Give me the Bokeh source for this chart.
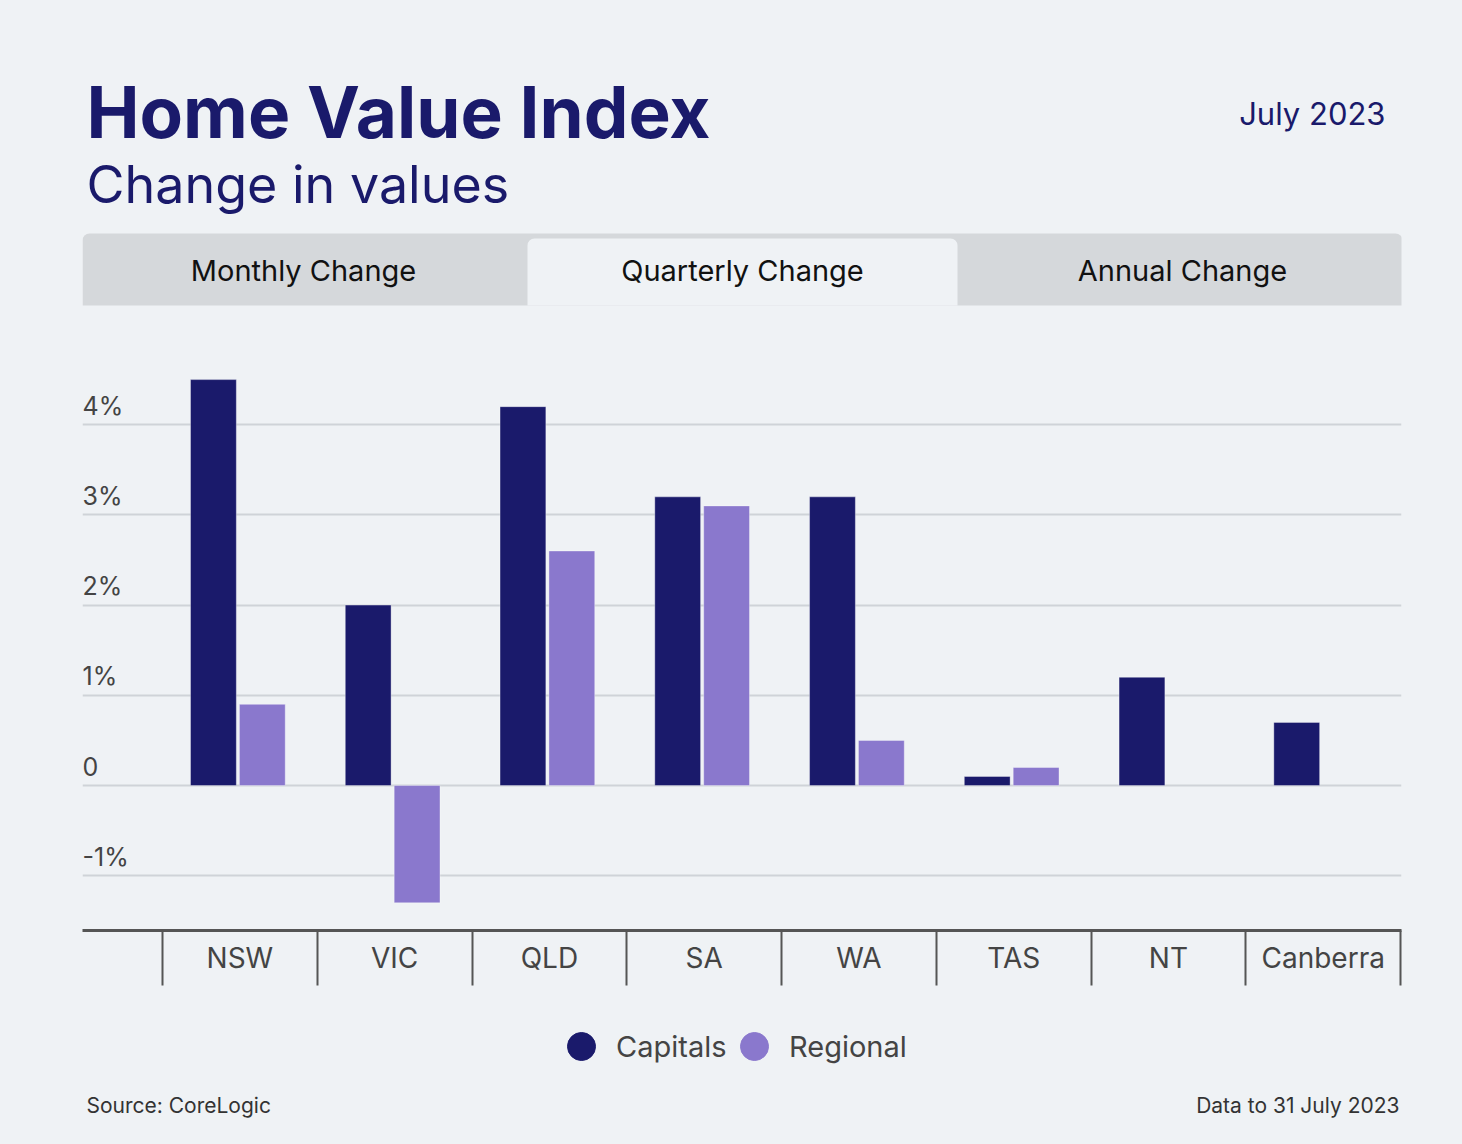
import re
import numpy as np
from bokeh.plotting import figure
from bokeh.models import Range1d, FixedTicker, ColumnDataSource, BoxAnnotation, Legend, LegendItem
from bokeh.layouts import column
from bokeh.core.properties import value
from bokeh.embed import file_html
from bokeh.resources import INLINE

# ---------------- data ----------------
categories = ["NSW", "VIC", "QLD", "SA", "WA", "TAS", "NT", "Canberra"]
capitals = [4.5, 2.0, 4.2, 3.2, 3.2, 0.1, 1.2, 0.7]
regional = [0.9, -1.3, 2.6, 3.1, 0.5, 0.2, np.nan, np.nan]
series_names = ["Capitals", "Regional"]
series_colors = ["#1a1a6b", "#8a78cd"]
y_ticks = [-1, 0, 1, 2, 3, 4]
y_tick_labels = ["-1%", "0", "1%", "2%", "3%", "4%"]
tabs = ["Monthly Change", "Quarterly Change", "Annual Change"]
title_text = "Home Value Index"
subtitle_text = "Change in values"
date_text = "July 2023"
source_text = "Source: CoreLogic"
data_note = "Data to 31 July 2023"

# ---------------- style ----------------
BG = "#eff2f5"
NAVY = "#1a1a6b"
TAB_GRAY = "#d5d8db"
GRID = "#cfd3d8"
AXIS = "#555555"
LABEL = "#444444"
FONT = "Inter"
W = 1462
BL, BR = 82, 61          # shared left / right borders (frames are aligned in the column)
FX0, FX1 = BL, W - BR    # frame extent in page pixels


def blank(height, y0, y1):
    f = figure(width=W, height=height, x_range=Range1d(FX0, FX1), y_range=Range1d(y1, y0),
               x_axis_location=None, y_axis_location=None, output_backend="svg",
               toolbar_location=None, min_border_left=BL, min_border_right=BR,
               min_border_top=0, min_border_bottom=0, background_fill_alpha=0,
               border_fill_alpha=0, outline_line_color=None)
    f.grid.visible = False
    return f


# ---------------- header ----------------
header = blank(330, 0, 330)
header.add_layout(BoxAnnotation(left=82, right=1402, top=233, bottom=305, fill_color=TAB_GRAY,
                                fill_alpha=1, line_color=None, border_radius=(7, 7, 0, 0),
                                level="underlay"))
header.add_layout(BoxAnnotation(left=527, right=957, top=238, bottom=305, fill_color=BG,
                                fill_alpha=1, line_color=None, border_radius=(7, 7, 0, 0),
                                level="underlay"))
tab_centers = [303, 742, 1182]
header.text(x=tab_centers, y=[270] * 3, text=tabs, text_align="center", text_baseline="middle",
            text_font=value(FONT), text_font_size="29px", text_color="#111111")
header.text(x=[86], y=[111], text=[title_text], text_align="left", text_baseline="middle",
            text_font=value(FONT), text_font_size="71px", text_font_style="bold", text_color=NAVY)
header.text(x=[86], y=[184], text=[subtitle_text], text_align="left", text_baseline="middle",
            text_font=value(FONT), text_font_size="52px", text_color=NAVY)
header.text(x=[1385], y=[113], text=[date_text], text_align="right", text_baseline="middle",
            text_font=value(FONT), text_font_size="31px", text_color=NAVY)

# ---------------- main chart ----------------
n = len(categories)
idx = np.arange(n)
off_cap, off_reg = -0.171, 0.145
bw = 0.296
src = ColumnDataSource(dict(x_cap=idx + off_cap, x_reg=idx + off_reg,
                            cap=capitals, reg=regional, cat=categories))

main = figure(width=W, height=670, x_range=Range1d(-1.017, 7.506), y_range=Range1d(-1.607, 5.0),
              y_axis_location=None, output_backend="svg", toolbar_location=None,
              min_border_left=BL, min_border_right=BR, min_border_top=4, min_border_bottom=70,
              background_fill_alpha=0, border_fill_alpha=0, outline_line_color=None)
main.xgrid.visible = False
main.ygrid.ticker = FixedTicker(ticks=y_ticks)
main.ygrid.grid_line_color = GRID
main.ygrid.grid_line_width = 2

r_cap = main.vbar(x="x_cap", top="cap", bottom=0, width=bw, source=src,
                  fill_color=series_colors[0], line_color="white", line_alpha=0.35, line_width=1)
r_reg = main.vbar(x="x_reg", top="reg", bottom=0, width=bw, source=src,
                  fill_color=series_colors[1], line_color="white", line_alpha=0.35, line_width=1)

xa = main.xaxis[0]
xa.ticker = FixedTicker(ticks=[float(i) for i in idx],
                        minor_ticks=[float(i) - 0.5 for i in idx] + [n - 0.5])
xa.major_label_overrides = {int(i): c for i, c in zip(idx, categories)}
xa.major_tick_out = 0
xa.major_tick_in = 0
xa.minor_tick_in = 0
xa.minor_tick_out = 55
xa.minor_tick_line_color = AXIS
xa.minor_tick_line_width = 2
xa.axis_line_color = AXIS
xa.axis_line_width = 3
xa.major_label_standoff = -45
xa.major_label_text_font = FONT
xa.major_label_text_font_size = "28px"
xa.major_label_text_color = LABEL

main.text(x=[main.x_range.start] * len(y_ticks), y=y_ticks, text=y_tick_labels,
          y_offset=-19, text_align="left", text_baseline="middle",
          text_font=value(FONT), text_font_size="25px", text_color=LABEL)

# ---------------- footer (legend + notes) ----------------
footer = blank(144, 1000, 1144)
lr = [footer.scatter(x=[np.nan], y=[np.nan], marker="circle", size=28, fill_color=c, line_color=c)
      for c in series_colors]
legend_x = [464, 637]   # left edge of each legend entry inside the footer frame
for s, r, lx in zip(series_names, lr, legend_x):
    footer.add_layout(Legend(items=[LegendItem(label=s, renderers=[r])],
                             orientation="horizontal", location=(lx, 63), glyph_width=70,
                             glyph_height=70, label_standoff=0, spacing=0, padding=0, margin=0,
                             border_line_color=None, background_fill_alpha=0,
                             label_text_font=FONT, label_text_font_size="29px",
                             label_text_color=LABEL))
footer.text(x=[86], y=[1105], text=[source_text], text_align="left", text_baseline="middle",
            text_font=value(FONT), text_font_size="21px", text_color="#333333")
footer.text(x=[1399], y=[1105], text=[data_note], text_align="right", text_baseline="middle",
            text_font=value(FONT), text_font_size="21px", text_color="#333333")

layout = column(header, main, footer, spacing=0)
html = file_html(layout, INLINE, title="Home Value Index")
page_css = "<style>html, body { background-color: %s !important; }</style>" % BG
if "</head>" in html:
    html = html.replace("</head>", page_css + "</head>", 1)
else:
    html = page_css + html
html = re.sub(r"<body([^>]*)>", r'<body\1 style="background-color:%s;">' % BG, html, count=1)
open("out.html", "w").write(html)
